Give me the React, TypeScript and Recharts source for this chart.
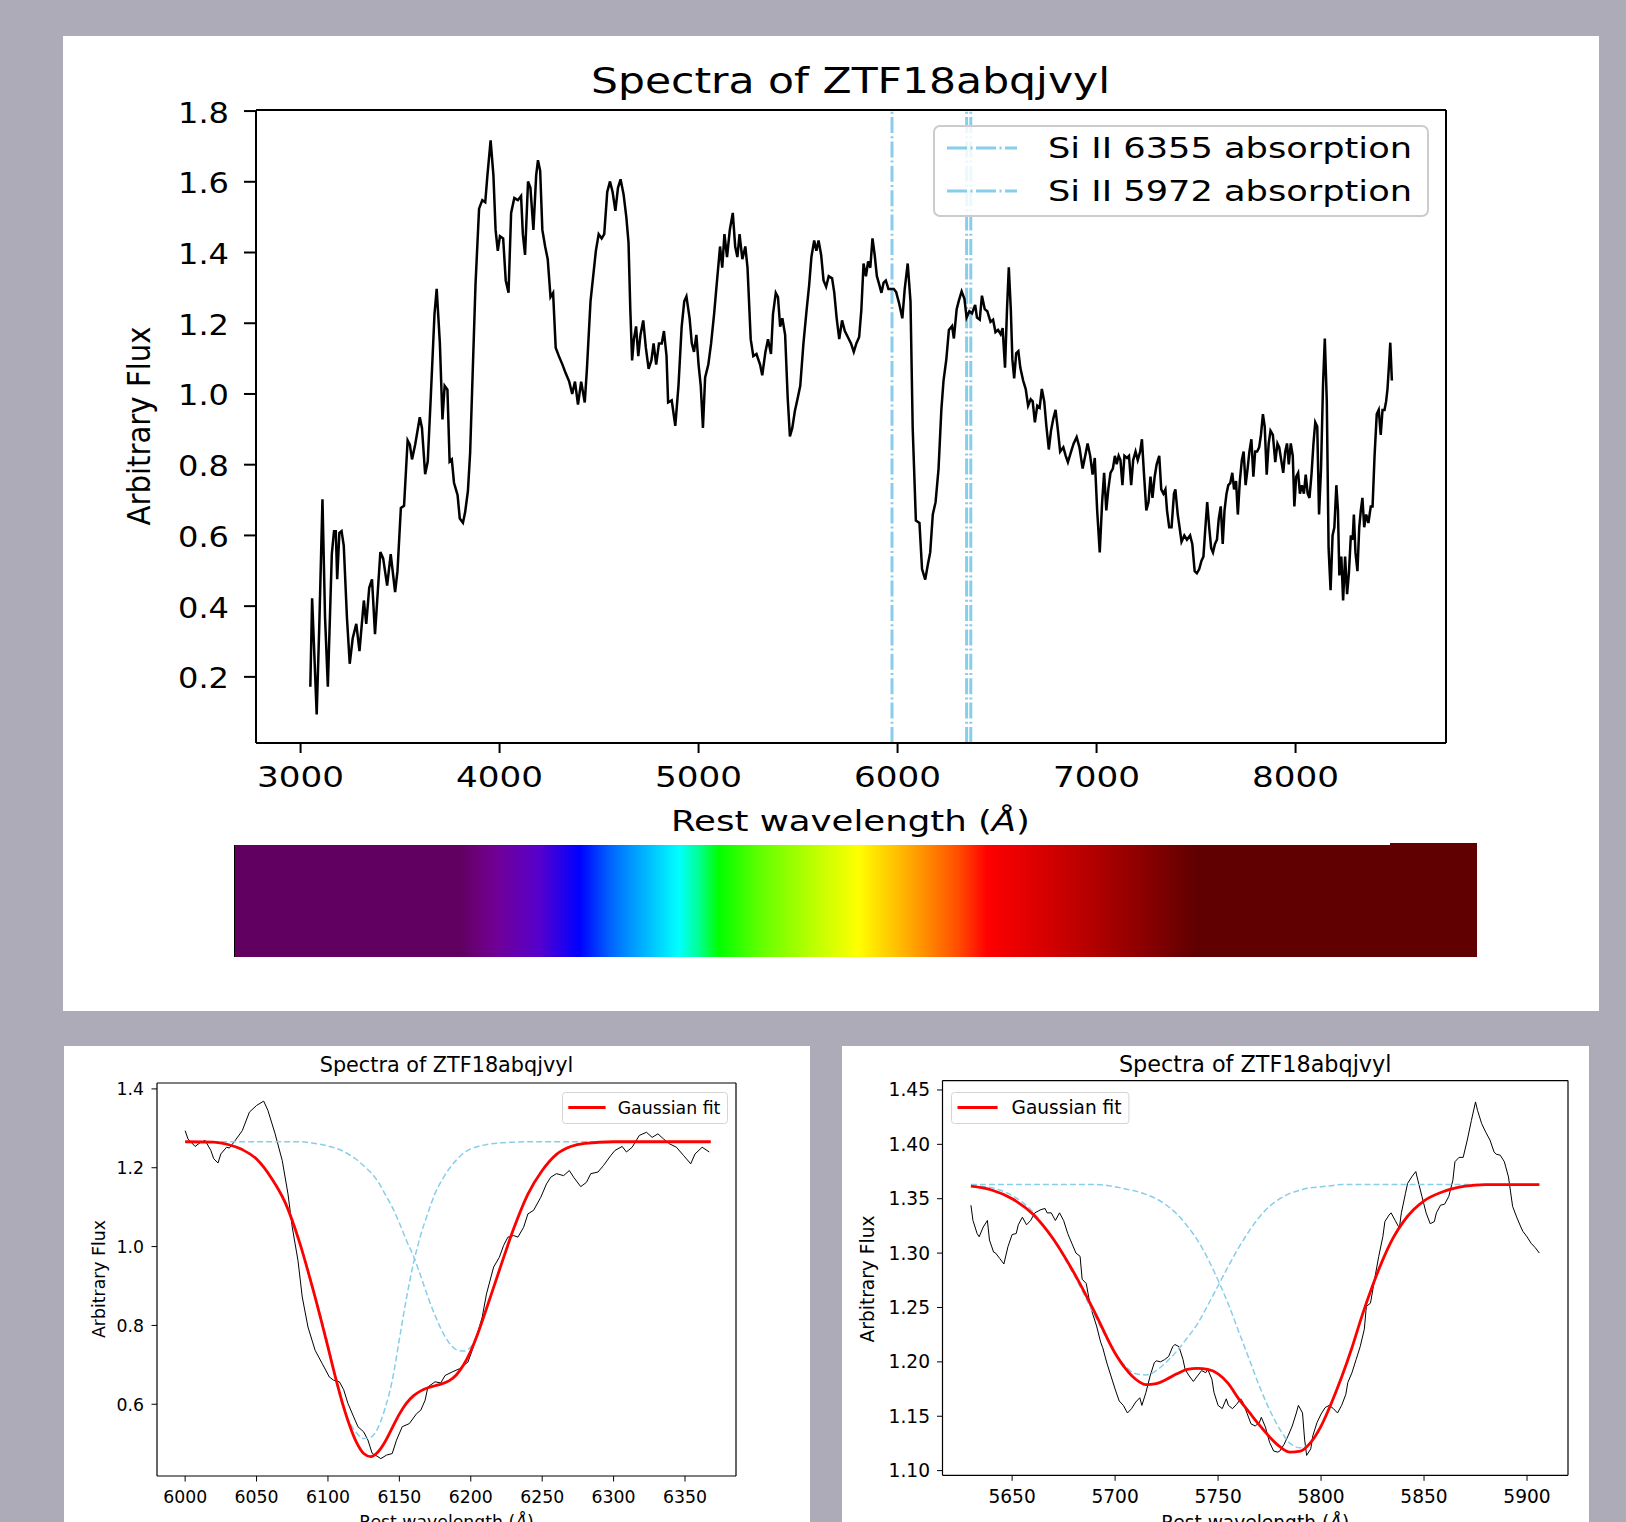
import React from 'react';
import { LineChart, Line, XAxis, YAxis, ReferenceLine, Legend } from 'recharts';

const FONT = '"DejaVu Sans", Verdana, sans-serif';
const PAGE_BG = '#aeabb8';
const SKY = '#87ceeb';

// ---------------- Top panel data (wavelength, flux) ----------------
const topSpectrumBlue: [number, number][] = [
  [3049,0.172],[3058,0.422],[3081,0.094],[3094,0.344],[3110,0.702],[3123,0.368],[3137,0.172],[3157,0.547],
  [3168,0.612],[3177,0.612],[3184,0.476],[3195,0.607],[3206,0.612],[3217,0.571],[3233,0.368],[3247,0.237],
  [3262,0.309],[3280,0.350],[3296,0.273],[3318,0.416],[3330,0.350],[3345,0.452],[3359,0.476],[3374,0.321],
  [3401,0.553],[3415,0.535],[3435,0.458],[3453,0.547],[3475,0.440],[3487,0.499],[3504,0.678],[3520,0.684],
  [3538,0.869],[3549,0.857],[3560,0.815],[3576,0.857],[3599,0.934],[3610,0.904],[3626,0.773],[3639,0.809],
  [3655,1.000],[3673,1.226],[3684,1.297],[3700,1.143],[3713,0.928],[3724,1.023],[3738,1.012],[3749,0.809],
  [3760,0.815],[3771,0.749],[3789,0.714],[3800,0.648],[3816,0.636],[3827,0.666],[3841,0.726],[3852,0.833],
  [3879,1.309],[3897,1.524],[3913,1.548],[3928,1.542],[3939,1.619],[3955,1.717],[3969,1.619],[3980,1.464],
  [3991,1.405],[4002,1.446],[4018,1.440],[4031,1.321],[4045,1.286],[4058,1.512],[4074,1.554],[4092,1.548],
  [4108,1.560],[4117,1.452],[4128,1.393],[4143,1.601],[4155,1.583],[4170,1.464],[4184,1.619],[4193,1.661],
  [4204,1.631],[4215,1.464],[4229,1.417],[4242,1.381],[4256,1.274],[4269,1.286],[4282,1.131],[4298,1.107],
  [4316,1.083],[4332,1.059],[4350,1.035],[4365,1.000],[4379,1.035],[4394,0.970],[4410,1.035],[4428,0.976],
  [4439,1.071],[4457,1.262],[4484,1.405],[4498,1.452],[4513,1.440],[4526,1.452],[4541,1.571],[4555,1.601],
  [4568,1.571],[4582,1.518],[4595,1.583],[4608,1.607],[4623,1.565],[4637,1.500],[4648,1.428],[4657,1.238],
  [4666,1.095],[4675,1.155],[4686,1.191],[4697,1.107],[4708,1.167],[4722,1.208],[4735,1.131],[4749,1.071],
  [4763,1.095],[4774,1.143],[4787,1.083],[4801,1.143],[4815,1.143],[4826,1.178],[4839,1.107],[4847,0.976],
  [4865,0.982],[4883,0.910],[4899,1.023],[4915,1.190],[4928,1.262],[4939,1.276],[4955,1.214],[4966,1.143],
  [4977,1.119],[4989,1.167],[5000,1.083],[5011,1.023],[5022,0.904],[5033,1.047],[5049,1.083],[5063,1.143],
  [5078,1.226],[5090,1.303],[5108,1.417],[5119,1.357],[5130,1.452],[5143,1.387],[5157,1.464],[5172,1.512],
  [5184,1.417],[5195,1.387],[5206,1.452],[5220,1.381],[5235,1.417],[5246,1.357],[5262,1.155],[5275,1.107],
  [5291,1.113],[5309,1.083],[5320,1.053],[5336,1.119],[5349,1.155],[5364,1.113],[5374,1.226],[5388,1.286],
  [5399,1.274],[5410,1.190],[5421,1.214],[5435,1.167],[5448,0.988],[5459,0.880],[5471,0.904],[5484,0.952],
  [5498,0.988],[5511,1.023],[5527,1.143],[5543,1.238],[5556,1.309],[5567,1.387],[5581,1.434],[5592,1.405],
  [5603,1.434],[5616,1.393],[5628,1.321],[5641,1.303],[5654,1.333],[5671,1.327],[5682,1.286],[5694,1.214],
  [5707,1.155],[5721,1.208],[5735,1.178],[5750,1.161],[5766,1.143],[5780,1.119],[5793,1.143],[5807,1.161],
  [5818,1.238],[5829,1.369],[5841,1.333],[5852,1.375],[5863,1.357],[5874,1.440],[5885,1.393],[5896,1.333],
  [5908,1.309],[5919,1.286],[5930,1.315],[5941,1.321],[5954,1.297],[5968,1.297],[5981,1.297],[5993,1.288],
  [6008,1.256],[6024,1.214],[6036,1.297],[6051,1.369],[6065,1.262],[6076,0.904],[6092,0.642],
];
const topSpectrumRed: [number, number][] = [
  [6110,0.635],[6123,0.505],[6139,0.475],[6152,0.517],[6164,0.552],[6177,0.659],[6191,0.694],[6206,0.789],
  [6220,0.955],[6231,1.038],[6245,1.098],[6258,1.181],[6274,1.192],[6283,1.157],[6297,1.240],[6308,1.264],
  [6322,1.290],[6336,1.269],[6347,1.216],[6361,1.234],[6374,1.228],[6390,1.252],[6399,1.216],[6413,1.210],
  [6424,1.278],[6438,1.240],[6451,1.234],[6467,1.204],[6480,1.210],[6492,1.175],[6505,1.181],[6518,1.169],
  [6528,1.186],[6540,1.074],[6550,1.240],[6559,1.358],[6569,1.240],[6577,1.097],[6586,1.044],[6596,1.115],
  [6607,1.121],[6617,1.074],[6631,1.038],[6644,1.014],[6656,0.967],[6669,0.985],[6679,0.979],[6690,0.920],
  [6702,0.967],[6714,0.961],[6725,1.014],[6737,0.979],[6748,0.908],[6760,0.843],[6771,0.896],[6783,0.931],
  [6794,0.955],[6806,0.896],[6817,0.837],[6833,0.849],[6845,0.825],[6856,0.807],[6872,0.837],[6885,0.860],
  [6900,0.878],[6914,0.849],[6930,0.789],[6943,0.825],[6955,0.860],[6968,0.825],[6980,0.772],[6991,0.819],
  [7003,0.671],[7016,0.552],[7028,0.694],[7038,0.777],[7049,0.671],[7059,0.730],[7070,0.777],[7082,0.789],
  [7092,0.825],[7101,0.801],[7111,0.825],[7120,0.813],[7130,0.742],[7140,0.825],[7153,0.819],[7163,0.825],
  [7174,0.742],[7184,0.813],[7196,0.837],[7207,0.813],[7219,0.837],[7228,0.872],[7238,0.777],[7250,0.671],
  [7261,0.694],[7271,0.766],[7281,0.706],[7292,0.766],[7302,0.801],[7315,0.825],[7325,0.730],[7336,0.718],
  [7346,0.730],[7354,0.671],[7365,0.623],[7377,0.623],[7389,0.718],[7396,0.730],[7408,0.659],[7417,0.623],
  [7427,0.582],[7441,0.600],[7454,0.588],[7470,0.600],[7481,0.576],[7493,0.499],[7504,0.493],[7516,0.505],
  [7527,0.528],[7537,0.540],[7547,0.623],[7556,0.694],[7566,0.623],[7576,0.564],[7585,0.552],[7595,0.576],
  [7605,0.588],[7614,0.647],[7624,0.682],[7634,0.576],[7643,0.671],[7653,0.718],[7662,0.742],[7672,0.748],
  [7682,0.777],[7691,0.730],[7701,0.754],[7710,0.659],[7720,0.754],[7730,0.813],[7739,0.837],[7749,0.742],
  [7759,0.789],[7768,0.837],[7778,0.872],[7788,0.766],[7797,0.837],[7807,0.837],[7817,0.849],[7826,0.884],
  [7836,0.943],[7845,0.908],[7855,0.772],[7865,0.860],[7874,0.896],[7886,0.884],[7898,0.807],[7909,0.860],
  [7918,0.849],[7928,0.813],[7938,0.777],[7948,0.837],[7957,0.860],[7966,0.801],[7976,0.860],[7986,0.825],
  [7994,0.682],[8003,0.766],[8013,0.777],[8022,0.718],[8032,0.742],[8042,0.718],[8051,0.772],[8061,0.718],
  [8070,0.706],[8080,0.772],[8090,0.860],[8099,0.920],[8109,0.908],[8118,0.659],[8128,0.789],[8138,1.026],
  [8147,1.157],[8157,0.979],[8166,0.564],[8176,0.445],[8186,0.600],[8195,0.623],[8205,0.742],[8213,0.671],
  [8220,0.487],[8230,0.540],[8239,0.416],[8249,0.540],[8259,0.434],[8268,0.493],[8278,0.600],[8287,0.588],
  [8293,0.659],[8301,0.552],[8311,0.499],[8320,0.623],[8328,0.671],[8336,0.706],[8345,0.623],[8355,0.659],
  [8366,0.635],[8378,0.682],[8387,0.682],[8397,0.825],[8408,0.943],[8418,0.955],[8428,0.884],[8437,0.955],
  [8447,0.955],[8455,0.979],[8462,1.014],[8470,1.086],[8476,1.145],[8484,1.038],
];
const topXTicks = [3000, 4000, 5000, 6000, 7000, 8000];
const topYTicks = [0.2, 0.4, 0.6, 0.8, 1.0, 1.2, 1.4, 1.6, 1.8];
const topXDomain: [number, number] = [2776, 8756];
const topYDomain: [number, number] = [0.013, 1.803];
const siLineWavelengths = [5972, 6347, 6368];
const topLegendLabels = ['Si II 6355 absorption', 'Si II 5972 absorption'];
const chartTitle = 'Spectra of ZTF18abqjvyl';
const yLabel = 'Arbitrary Flux';

// ---------------- Bottom-left data ----------------
const blSpectrum: [number, number][] = [
  [6000,1.294],[6002,1.273],[6007,1.254],[6011,1.265],[6014,1.269],[6018,1.244],[6020,1.223],[6023,1.212],[6025,1.235],[6029,1.252],
  [6031,1.250],[6035,1.269],[6040,1.294],[6045,1.341],[6050,1.358],[6055,1.369],[6058,1.345],[6063,1.286],[6068,1.218],[6072,1.134],
  [6075,1.049],[6079,0.965],[6082,0.872],[6086,0.796],[6091,0.737],[6096,0.703],[6101,0.669],[6104,0.661],[6108,0.657],[6111,0.637],
  [6114,0.602],[6118,0.568],[6121,0.543],[6125,0.530],[6128,0.509],[6131,0.475],[6135,0.467],[6137,0.462],[6141,0.471],[6145,0.475],
  [6148,0.509],[6152,0.543],[6157,0.551],[6162,0.576],[6165,0.585],[6168,0.610],[6170,0.644],[6175,0.657],[6179,0.654],[6182,0.673],
  [6187,0.682],[6192,0.690],[6198,0.707],[6201,0.737],[6204,0.771],[6208,0.821],[6211,0.880],[6216,0.948],[6220,0.973],[6223,1.003],
  [6226,1.024],[6230,1.028],[6233,1.024],[6237,1.049],[6240,1.083],[6244,1.092],[6249,1.125],[6253,1.159],[6256,1.176],[6260,1.185],
  [6265,1.180],[6269,1.193],[6272,1.176],[6277,1.152],[6281,1.163],[6284,1.185],[6289,1.189],[6293,1.206],[6298,1.231],[6301,1.244],
  [6306,1.254],[6309,1.240],[6313,1.252],[6318,1.282],[6323,1.290],[6327,1.277],[6331,1.286],[6335,1.273],[6339,1.261],[6344,1.252],
  [6349,1.231],[6354,1.210],[6357,1.235],[6362,1.252],[6367,1.240],
];
const blFitWave = [6000,6020,6030,6040,6050,6060,6070,6080,6090,6100,6105,6110,6115,6120,6125,6130,6135,6140,6145,6150,6155,6160,6165,6170,6175,6180,6185,6190,6195,6200,6205,6210,6220,6230,6240,6250,6260,6270,6280,6300,6330,6368];
const blFitFlux = [1.266,1.265,1.259,1.246,1.222,1.176,1.112,1.012,0.885,0.745,0.672,0.605,0.548,0.503,0.475,0.467,0.479,0.505,0.540,0.575,0.603,0.622,0.634,0.642,0.647,0.652,0.660,0.675,0.700,0.735,0.780,0.832,0.940,1.045,1.133,1.193,1.234,1.254,1.262,1.266,1.266,1.266];
const blComp1Flux = [1.266,1.266,1.260,1.247,1.223,1.178,1.115,1.015,0.889,0.752,0.672,0.600,0.555,0.527,0.513,0.516,0.540,0.590,0.660,0.765,0.870,0.960,1.030,1.085,1.135,1.170,1.198,1.220,1.237,1.248,1.254,1.258,1.263,1.265,1.266,1.266,1.266,1.266,1.266,1.266,1.266,1.266];
const blComp2Flux = [1.266,1.266,1.266,1.266,1.266,1.266,1.266,1.266,1.262,1.255,1.250,1.243,1.233,1.221,1.205,1.188,1.165,1.133,1.100,1.060,1.015,0.975,0.925,0.872,0.825,0.785,0.755,0.738,0.735,0.745,0.782,0.832,0.940,1.045,1.133,1.193,1.234,1.254,1.262,1.266,1.266,1.266];
const blXTicks = [6000, 6050, 6100, 6150, 6200, 6250, 6300, 6350];
const blYTicks = [0.6, 0.8, 1.0, 1.2, 1.4];
const blXDomain: [number, number] = [5980.3, 6385.7];
const blYDomain: [number, number] = [0.418, 1.415];

// ---------------- Bottom-right data ----------------
const brSpectrum: [number, number][] = [
  [5630,1.344],[5631,1.330],[5633,1.318],[5634,1.315],[5636,1.324],[5638,1.330],[5639,1.312],[5641,1.301],[5642,1.300],[5644,1.295],
  [5646,1.290],[5648,1.306],[5650,1.317],[5652,1.318],[5653,1.326],[5655,1.333],[5657,1.326],[5659,1.330],[5661,1.337],[5664,1.340],
  [5666,1.341],[5667,1.337],[5669,1.337],[5671,1.330],[5673,1.337],[5675,1.330],[5677,1.318],[5679,1.309],[5681,1.300],[5683,1.297],
  [5684,1.276],[5686,1.272],[5688,1.251],[5691,1.233],[5693,1.218],[5694,1.213],[5696,1.199],[5698,1.187],[5700,1.175],[5702,1.164],
  [5704,1.160],[5706,1.153],[5708,1.157],[5710,1.163],[5712,1.167],[5713,1.160],[5715,1.172],[5717,1.187],[5719,1.199],[5720,1.201],
  [5722,1.200],[5724,1.202],[5726,1.205],[5728,1.214],[5729,1.216],[5731,1.214],[5733,1.202],[5734,1.193],[5736,1.187],[5738,1.182],
  [5740,1.187],[5742,1.192],[5744,1.190],[5745,1.193],[5747,1.184],[5748,1.172],[5750,1.160],[5752,1.157],[5754,1.166],[5755,1.160],
  [5757,1.157],[5759,1.161],[5761,1.166],[5762,1.163],[5764,1.153],[5766,1.143],[5768,1.141],[5770,1.144],[5771,1.149],[5773,1.140],
  [5775,1.126],[5777,1.118],[5779,1.117],[5780,1.118],[5782,1.124],[5784,1.132],[5786,1.141],[5788,1.153],[5789,1.160],[5791,1.153],
  [5792,1.129],[5793,1.114],[5795,1.120],[5796,1.132],[5798,1.144],[5800,1.152],[5802,1.158],[5804,1.160],[5806,1.157],[5808,1.153],
  [5810,1.160],[5812,1.170],[5813,1.181],[5815,1.190],[5817,1.202],[5819,1.214],[5821,1.230],[5822,1.251],[5824,1.254],[5826,1.276],
  [5828,1.297],[5830,1.315],[5831,1.329],[5833,1.335],[5834,1.337],[5836,1.330],[5838,1.323],[5839,1.337],[5841,1.355],[5842,1.364],
  [5844,1.370],[5846,1.375],[5847,1.367],[5849,1.352],[5851,1.337],[5853,1.327],[5855,1.329],[5856,1.337],[5858,1.344],[5860,1.345],
  [5862,1.352],[5864,1.367],[5865,1.384],[5867,1.388],[5869,1.388],[5871,1.404],[5873,1.422],[5875,1.439],[5876,1.431],[5878,1.419],
  [5880,1.411],[5882,1.404],[5884,1.393],[5885,1.391],[5887,1.390],[5889,1.384],[5891,1.370],[5893,1.343],[5895,1.333],[5897,1.324],
  [5898,1.320],[5900,1.315],[5902,1.309],[5904,1.305],[5906,1.300],
];
const brFitWave = [5630,5640,5650,5660,5670,5680,5690,5700,5705,5710,5715,5720,5725,5730,5735,5740,5745,5750,5755,5760,5765,5770,5775,5780,5785,5790,5795,5800,5805,5810,5815,5820,5825,5830,5835,5840,5845,5850,5860,5870,5880,5890,5906];
const brFitFlux = [1.3615,1.358,1.350,1.336,1.313,1.282,1.246,1.208,1.194,1.184,1.179,1.180,1.184,1.189,1.193,1.194,1.193,1.189,1.180,1.166,1.154,1.142,1.131,1.122,1.117,1.118,1.126,1.141,1.162,1.186,1.213,1.243,1.270,1.294,1.314,1.329,1.340,1.348,1.357,1.3615,1.363,1.363,1.363];
const brCompAFlux = [1.362,1.360,1.353,1.338,1.312,1.280,1.243,1.208,1.196,1.189,1.188,1.192,1.200,1.210,1.222,1.235,1.252,1.270,1.288,1.305,1.320,1.333,1.343,1.350,1.355,1.358,1.360,1.361,1.362,1.363,1.363,1.363,1.363,1.363,1.363,1.363,1.363,1.363,1.363,1.363,1.363,1.363,1.363];
const brCompBFlux = [1.363,1.363,1.363,1.363,1.363,1.363,1.363,1.361,1.359,1.357,1.354,1.350,1.344,1.336,1.325,1.312,1.295,1.275,1.253,1.228,1.203,1.178,1.156,1.138,1.125,1.121,1.126,1.141,1.162,1.186,1.213,1.243,1.270,1.294,1.314,1.329,1.340,1.348,1.357,1.3615,1.363,1.363,1.363];
const brXTicks = [5650, 5700, 5750, 5800, 5850, 5900];
const brYTicks = [1.10, 1.15, 1.20, 1.25, 1.30, 1.35, 1.40, 1.45];
const brXDomain: [number, number] = [5616.2, 5919.9];
const brYDomain: [number, number] = [1.0957, 1.4586];
const fitLegendLabel = 'Gaussian fit';

// colour bar (wavelength -> visible colour)
const colorbarGradient =
  'linear-gradient(to right, #610061 0%, #610061 18.2%, #6d007e 19.8%, #6f009a 21.4%, #5600ce 24.6%, #0000ff 27.8%, #0061ff 30.2%, #0092ff 31.8%, #00d5ff 34.2%, #00ffff 35.8%, #00ff92 37.4%, #00ff00 39%, #5eff00 42.2%, #92ff00 44.6%, #c3ff00 47%, #ffff00 50.2%, #ffbe00 53.4%, #ff9200 55.4%, #ff4f00 58.2%, #ff0000 60.6%, #dc0000 64.6%, #b10000 69.3%, #610000 77.4%, #610000 100%)';

const pairs = (arr: [number, number][]) => arr.map(([w, f]) => ({ w, f }));
const topData = [...pairs(topSpectrumBlue), ...pairs(topSpectrumRed)];
const blSpecData = pairs(blSpectrum);
const blFitData = blFitWave.map((w, i) => ({ w, fit: blFitFlux[i], c1: blComp1Flux[i], c2: blComp2Flux[i] }));
const brSpecData = pairs(brSpectrum);
const brFitData = brFitWave.map((w, i) => ({ w, fit: brFitFlux[i], c1: brCompAFlux[i], c2: brCompBFlux[i] }));

const txt = { fontFamily: FONT, fill: '#000' } as const;

function TopLegend() {
  return (
    <svg width={496} height={92} style={{ display: 'block' }}>
      <rect x={1} y={1} width={494} height={90} rx={6} ry={6} fill="#fff" fillOpacity={0.85} stroke="#cccccc" strokeWidth={2} />
      {topLegendLabels.map((label, i) => (
        <g key={label}>
          <line x1={14} x2={84} y1={23 + i * 43} y2={23 + i * 43} stroke={SKY} strokeWidth={2.8} strokeDasharray="20 3.5 2 3.5" />
          <text x={115} y={33 + i * 43} fontSize={29} textLength={364} lengthAdjust="spacingAndGlyphs" {...txt}>{label}</text>
        </g>
      ))}
    </svg>
  );
}

function FitLegend({ w, lineX1, lineX2, textX, textW, fs }: { w: number; lineX1: number; lineX2: number; textX: number; textW: number; fs: number }) {
  return (
    <svg width={w} height={32} style={{ display: 'block' }}>
      <rect x={0.5} y={0.5} width={w - 1} height={31} rx={3} ry={3} fill="#fff" fillOpacity={0.85} stroke="#d4d4d4" strokeWidth={1} />
      <line x1={lineX1} x2={lineX2} y1={15.5} y2={15.5} stroke="#ff0000" strokeWidth={2.8} />
      <text x={textX} y={22} fontSize={fs} textLength={textW} lengthAdjust="spacingAndGlyphs" {...txt}>{fitLegendLabel}</text>
    </svg>
  );
}

function TopPanel() {
  return (
    <div style={{ position: 'absolute', left: 63, top: 36, width: 1536, height: 975, background: '#fff' }}>
      <LineChart width={1536} height={975} data={topData} margin={{ top: 74, right: 153, left: 133, bottom: 228 }}>
        <XAxis
          type="number" dataKey="w" domain={topXDomain} allowDataOverflow ticks={topXTicks} interval={0} height={40}
          tickSize={10} axisLine={{ stroke: '#000', strokeWidth: 2 }} tickLine={{ stroke: '#000', strokeWidth: 2 }}
          tick={(p: any) => (
            <text x={p.x} y={750.7} textAnchor="middle" fontSize={29} textLength={87} lengthAdjust="spacingAndGlyphs" {...txt}>{p.payload.value}</text>
          )}
        />
        <YAxis
          type="number" domain={topYDomain} allowDataOverflow ticks={topYTicks} interval={0} width={60}
          tickSize={12} axisLine={{ stroke: '#000', strokeWidth: 2 }} tickLine={{ stroke: '#000', strokeWidth: 2 }}
          tick={(p: any) => (
            <text x={166} y={p.y + 11.5} textAnchor="end" fontSize={29} textLength={51} lengthAdjust="spacingAndGlyphs" {...txt}>{Number(p.payload.value).toFixed(1)}</text>
          )}
        />
        <ReferenceLine y={topYDomain[1]} stroke="#000" strokeWidth={2} />
        <ReferenceLine x={topXDomain[1]} stroke="#000" strokeWidth={2} />
        {siLineWavelengths.map((x) => (
          <ReferenceLine key={x} x={x} stroke={SKY} strokeWidth={3} strokeDasharray="16 3.2 2 3.2" />
        ))}
        <Line type="linear" dataKey="f" stroke="#000" strokeWidth={2.5} dot={false} isAnimationActive={false} />
        <Legend
          layout="horizontal" verticalAlign="middle" align="center"
          wrapperStyle={{ position: 'absolute', left: 870, top: 89, width: 496, height: 92 }}
          content={() => <TopLegend />}
        />
      </LineChart>
      <svg width={1536} height={975} style={{ position: 'absolute', left: 0, top: 0, pointerEvents: 'none' }}>
        <text x={787.5} y={57} textAnchor="middle" fontSize={35} textLength={519} lengthAdjust="spacingAndGlyphs" {...txt}>{chartTitle}</text>
        <text x={787.5} y={795} textAnchor="middle" fontSize={29} textLength={359} lengthAdjust="spacingAndGlyphs" {...txt}>
          Rest wavelength (<tspan fontStyle="italic">Å</tspan>)
        </text>
        <text transform="translate(87,390) scale(1.1,1) rotate(-90)" textAnchor="middle" fontSize={29} textLength={199} lengthAdjust="spacingAndGlyphs" {...txt}>{yLabel}</text>
      </svg>
      <div style={{ position: 'absolute', left: 171, top: 809, width: 1243, height: 112, background: colorbarGradient }} />
      <div style={{ position: 'absolute', left: 1327, top: 807, width: 87, height: 3, background: '#610000' }} />
      <div style={{ position: 'absolute', left: 171, top: 809, width: 1, height: 112, background: '#000' }} />
    </div>
  );
}

type SmallProps = {
  left: number; width: number; margin: { top: number; right: number; left: number; bottom: number };
  spec: { w: number; f: number }[]; fit: { w: number; fit: number; c1: number; c2: number }[];
  xTicks: number[]; yTicks: number[]; xDomain: [number, number]; yDomain: [number, number];
  yDigits: number; fs: number; yTickRight: number; titleX: number; ylabelX: number;
  legend: { left: number; w: number; lineX1: number; lineX2: number; textX: number; textW: number };
};

function SmallPanel(p: SmallProps) {
  const axis = { stroke: '#000', strokeWidth: 1.2 };
  return (
    <div style={{ position: 'absolute', left: p.left, top: 1046, width: p.width, height: 476, background: '#fff', overflow: 'hidden' }}>
      <LineChart width={p.width} height={476} margin={p.margin}>
        <XAxis
          type="number" dataKey="w" domain={p.xDomain} allowDataOverflow ticks={p.xTicks} interval={0} height={30}
          tickSize={5.5} axisLine={axis} tickLine={{ stroke: '#000', strokeWidth: 1 }}
          tick={(t: any) => (
            <text x={t.x} y={456.7} textAnchor="middle" fontSize={p.fs} {...txt}>{t.payload.value}</text>
          )}
        />
        <YAxis
          type="number" domain={p.yDomain} allowDataOverflow ticks={p.yTicks} interval={0} width={50}
          tickSize={5.5} axisLine={axis} tickLine={{ stroke: '#000', strokeWidth: 1 }}
          tick={(t: any) => (
            <text x={p.yTickRight} y={t.y + 6.5} textAnchor="end" fontSize={p.fs} {...txt}>{Number(t.payload.value).toFixed(p.yDigits)}</text>
          )}
        />
        <ReferenceLine y={p.yDomain[1]} stroke="#000" strokeWidth={1.2} />
        <ReferenceLine x={p.xDomain[1]} stroke="#000" strokeWidth={1.2} />
        <Line data={p.spec} type="linear" dataKey="f" stroke="#000" strokeWidth={1} dot={false} isAnimationActive={false} />
        <Line data={p.fit} type="monotone" dataKey="c1" stroke={SKY} strokeWidth={1.5} strokeDasharray="6 3" dot={false} isAnimationActive={false} />
        <Line data={p.fit} type="monotone" dataKey="c2" stroke={SKY} strokeWidth={1.5} strokeDasharray="6 3" dot={false} isAnimationActive={false} />
        <Line data={p.fit} type="monotone" dataKey="fit" stroke="#ff0000" strokeWidth={2.8} dot={false} isAnimationActive={false} />
        <Legend
          layout="horizontal" verticalAlign="middle" align="center"
          wrapperStyle={{ position: 'absolute', left: p.legend.left, top: 45.7, width: p.legend.w, height: 32 }}
          content={() => (
            <FitLegend w={p.legend.w} lineX1={p.legend.lineX1} lineX2={p.legend.lineX2} textX={p.legend.textX} textW={p.legend.textW} fs={p.fs} />
          )}
        />
      </LineChart>
      <svg width={p.width} height={476} style={{ position: 'absolute', left: 0, top: 0, pointerEvents: 'none' }}>
        <text x={p.titleX} y={26} textAnchor="middle" fontSize={p.fs * 1.2} {...txt}>{chartTitle}</text>
        <text transform={`translate(${p.ylabelX},233) rotate(-90)`} textAnchor="middle" fontSize={p.fs} {...txt}>{yLabel}</text>
        <text x={p.titleX} y={482 + (p.fs - 17.3) * 0.5} textAnchor="middle" fontSize={p.fs} {...txt}>
          Rest wavelength (<tspan fontStyle="italic">Å</tspan>)
        </text>
      </svg>
    </div>
  );
}

export default function App() {
  return (
    <div style={{ position: 'absolute', left: 0, top: 0, width: 1626, height: 1522, background: PAGE_BG, overflow: 'hidden' }}>
      <TopPanel />
      <SmallPanel
        left={64} width={746} margin={{ top: 37, right: 74, left: 43, bottom: 16 }}
        spec={blSpecData} fit={blFitData} xTicks={blXTicks} yTicks={blYTicks} xDomain={blXDomain} yDomain={blYDomain}
        yDigits={1} fs={17.3} yTickRight={80} titleX={382.5} ylabelX={40.5}
        legend={{ left: 497.7, w: 166, lineX1: 6.3, lineX2: 43.6, textX: 55.7, textW: 102.7 }}
      />
      <SmallPanel
        left={842} width={747} margin={{ top: 34.6, right: 21, left: 50.5, bottom: 16.7 }}
        spec={brSpecData} fit={brFitData} xTicks={brXTicks} yTicks={brYTicks} xDomain={brXDomain} yDomain={brYDomain}
        yDigits={2} fs={18.6} yTickRight={88} titleX={413.2} ylabelX={31.5}
        legend={{ left: 109.3, w: 178.4, lineX1: 6.5, lineX2: 46.6, textX: 60.6, textW: 110 }}
      />
    </div>
  );
}
